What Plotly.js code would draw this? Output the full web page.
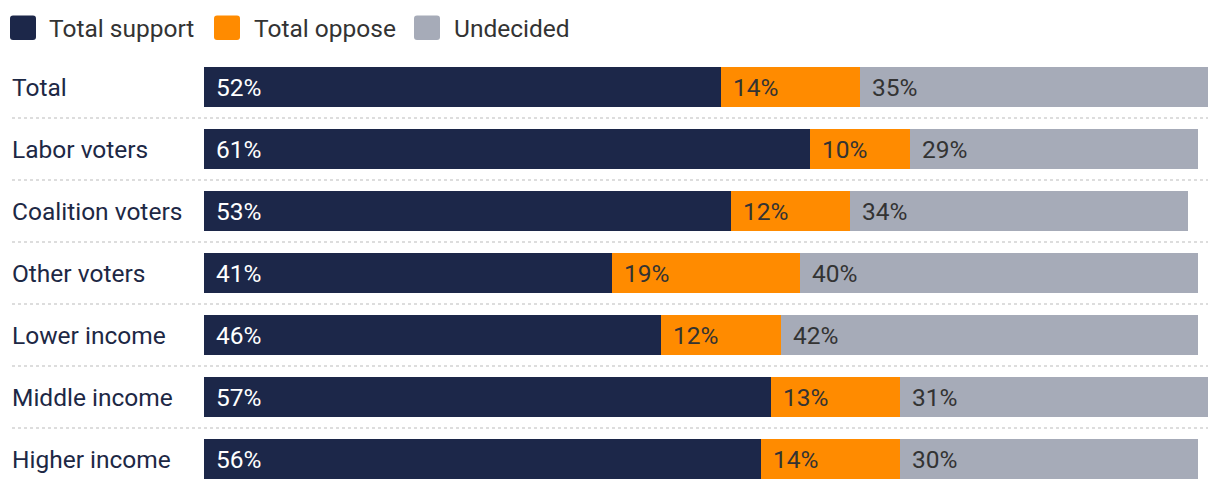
<!DOCTYPE html>
<html>
<head>
<meta charset="utf-8">
<script src="https://cdn.plot.ly/plotly-3.0.1.min.js"></script>
<style>html,body{margin:0;padding:0;background:#fff;}#chart{width:1220px;height:490px;}</style>
</head>
<body>
<div id="chart"></div>
<script>
const categories = ["Total","Labor voters","Coalition voters","Other voters","Lower income","Middle income","Higher income"];
const support = [52,61,53,41,46,57,56];
const oppose = [14,10,12,19,12,13,14];
const undecided = [35,29,34,40,42,31,30];
const seriesNames = ["Total support","Total oppose","Undecided"];

const colors = ["#1c2749","#ff8b00","#a6abb8"];
const textColors = ["#ffffff","#333333","#333333"];
const FONT = "Roboto, sans-serif";
const FS = 24.5;
const W = 1220, H = 490;
const M = {l:204, r:12, t:56, b:0};
const PW = W - M.l - M.r, PH = H - M.t - M.b;
const px2x = p => (p - M.l) / PW;
const py2y = p => (H - M.b - p) / PH;

const series = [support, oppose, undecided];
const traces = series.map((vals, i) => ({
  type: "bar", orientation: "h", name: seriesNames[i],
  y: categories, x: vals,
  marker: {color: colors[i], line: {width: 0}},
  hoverinfo: "skip", showlegend: false
}));

const annotations = [];
const shapes = [];
categories.forEach((c, r) => {
  annotations.push({xref: "paper", yref: "y", x: px2x(10), y: c, xanchor: "left", yanchor: "middle",
    text: c, showarrow: false, font: {family: FONT, size: FS, color: "#1d2845"}});
  let cum = 0;
  series.forEach((vals, i) => {
    annotations.push({xref: "x", yref: "y", x: cum, y: c, xanchor: "left", yanchor: "middle", xshift: 10,
      text: vals[r] + "%", showarrow: false, font: {family: FONT, size: FS, color: textColors[i]}});
    cum += vals[r];
  });
  if (r < categories.length - 1) {
    shapes.push({type: "line", xref: "paper", yref: "y", x0: px2x(12), x1: px2x(1208), y0: r + 0.5, y1: r + 0.5,
      line: {color: "#d2d2d2", width: 1.5, dash: "dot"}, layer: "below"});
  }
});

// legend
const legendBoxes = [10, 214, 414];
const legendTexts = [47, 252, 452];
function roundRect(x0, y0, x1, y1, rad) {
  const X = p => px2x(p), Y = p => py2y(p);
  return `M${X(x0+rad)},${Y(y0)} L${X(x1-rad)},${Y(y0)} Q${X(x1)},${Y(y0)} ${X(x1)},${Y(y0+rad)} L${X(x1)},${Y(y1-rad)} Q${X(x1)},${Y(y1)} ${X(x1-rad)},${Y(y1)} L${X(x0+rad)},${Y(y1)} Q${X(x0)},${Y(y1)} ${X(x0)},${Y(y1-rad)} L${X(x0)},${Y(y0+rad)} Q${X(x0)},${Y(y0)} ${X(x0+rad)},${Y(y0)} Z`;
}
seriesNames.forEach((n, i) => {
  shapes.push({type: "path", xref: "paper", yref: "paper", path: roundRect(legendBoxes[i], 15.5, legendBoxes[i] + 26, 40, 3),
    fillcolor: colors[i], line: {width: 0}});
  annotations.push({xref: "paper", yref: "paper", x: px2x(legendTexts[i]), y: py2y(28), xanchor: "left", yanchor: "middle",
    text: n, showarrow: false, font: {family: FONT, size: FS, color: "#333333"}});
});

const layout = {
  width: W, height: H, margin: M,
  paper_bgcolor: "#ffffff", plot_bgcolor: "#ffffff",
  barmode: "stack", bargap: 0.355,
  xaxis: {range: [0, 101], visible: false, fixedrange: true},
  yaxis: {range: [6.5, -0.5], visible: false, type: "category", fixedrange: true},
  showlegend: false,
  annotations: annotations, shapes: shapes,
  font: {family: FONT}
};
Plotly.newPlot("chart", traces, layout, {displayModeBar: false, staticPlot: true});
</script>
</body>
</html>
